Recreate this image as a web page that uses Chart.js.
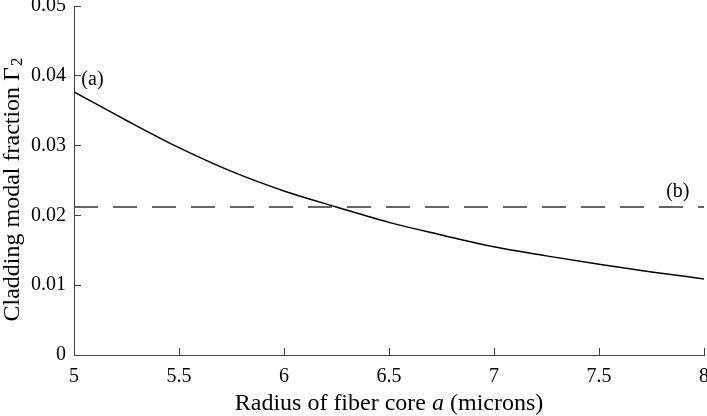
<!DOCTYPE html>
<html>
<head>
<meta charset="utf-8">
<script src="https://cdn.jsdelivr.net/npm/chart.js@4/dist/chart.umd.min.js"></script>
<style>
    html, body { margin: 0; padding: 0; background: #fff; }
    canvas { display: block; }
</style>
</head>
<body>
<canvas id="chart" width="707" height="416"></canvas>
<script>
(function () {
    'use strict';

    // --- Data ---

    const coreRadius = [5, 5.25, 5.5, 5.75, 6, 6.25, 6.5, 6.75, 7, 7.25, 7.5, 7.75, 8];
    const claddingFraction = [0.0377, 0.0336, 0.0297, 0.0263, 0.0235, 0.0212, 0.0190, 0.0172, 0.0155, 0.0142, 0.0130, 0.0119, 0.0109];
    const thresholdX = [5, 8];
    const thresholdY = [0.0212, 0.0212];
    const xTicks = [5, 5.5, 6, 6.5, 7, 7.5, 8];
    const yTicks = [0, 0.01, 0.02, 0.03, 0.04, 0.05];

    const noteText = ['(a)', '(b)'];
    const noteX = [5.035, 7.82];
    const noteY = [0.0394, 0.0234];

    const SERIF = '"Liberation Serif", "DejaVu Serif", serif';
    const AXIS_COLOR = '#404040';

    // --- Text drawn on top (titles with italic / subscript, curve labels) ---

    const textPlugin = {
        id: 'texts',
        afterDraw(chart) {
            const ctx = chart.ctx;
            const xs = chart.scales.x;
            const ys = chart.scales.y;
            const area = chart.chartArea;
            ctx.save();
            ctx.fillStyle = '#000';
            ctx.textBaseline = 'middle';
            ctx.textAlign = 'left';

            ctx.font = '20px ' + SERIF;
            noteText.forEach((t, i) => {
                ctx.fillText(t, xs.getPixelForValue(noteX[i]), ys.getPixelForValue(noteY[i]));
            });

            // x title: "Radius of fiber core a (microns)" with italic a
            const normal = '24px ' + SERIF;
            const italic = 'italic 24px ' + SERIF;
            const parts = [
                ['Radius of fiber core ', normal],
                ['a', italic],
                [' (microns)', normal],
            ];
            let total = 0;
            parts.forEach(p => { ctx.font = p[1]; total += ctx.measureText(p[0]).width; });
            let px = (area.left + area.right) / 2 - total / 2;
            parts.forEach(p => {
                ctx.font = p[1];
                ctx.fillText(p[0], px, 404);
                px += ctx.measureText(p[0]).width;
            });

            // y title: "Cladding modal fraction Γ2" with subscript 2
            ctx.translate(13, 190);
            ctx.rotate(-Math.PI / 2);
            const main = 'Cladding modal fraction Γ';
            ctx.font = normal;
            const wMain = ctx.measureText(main).width;
            ctx.font = '17px ' + SERIF;
            const wSub = ctx.measureText('2').width;
            const start = -(wMain + wSub) / 2;
            ctx.font = normal;
            ctx.fillText(main, start, 0);
            ctx.font = '17px ' + SERIF;
            ctx.fillText('2', start + wMain + 1, 5);
            ctx.restore();
        }
    };

    const ctx = document.getElementById('chart').getContext('2d');
    new Chart(ctx, {
        type: 'line',
        data: {
            datasets: [
                {
                    label: 'Cladding modal fraction',
                    data: coreRadius.map((x, i) => ({ x: x, y: claddingFraction[i] })),
                    borderColor: '#000',
                    borderWidth: 1.5,
                    pointRadius: 0,
                    cubicInterpolationMode: 'monotone',
                    fill: false,
                },
                {
                    label: 'Threshold',
                    data: thresholdX.map((x, i) => ({ x: x, y: thresholdY[i] })),
                    borderColor: '#333',
                    borderWidth: 1.4,
                    borderDash: [24, 15],
                    pointRadius: 0,
                    fill: false,
                },
            ],
        },
        options: {
            responsive: false,
            animation: false,
            devicePixelRatio: 1,
            layout: { padding: { top: 6, right: 3, left: 0, bottom: 0 } },
            plugins: {
                legend: { display: false },
                tooltip: { enabled: false },
            },
            scales: {
                x: {
                    type: 'linear',
                    min: 5,
                    max: 8,
                    afterFit: s => {
                        s.height = 61;
                        s.paddingLeft = 0;
                        s.paddingRight = 0;
                    },
                    afterBuildTicks: s => { s.ticks = xTicks.map(v => ({ value: v })); },
                    ticks: {
                        color: '#000',
                        font: { family: SERIF, size: 20 },
                        padding: 17,
                        maxRotation: 0,
                        callback: v => String(v),
                    },
                    grid: {
                        drawOnChartArea: false,
                        tickLength: -7,
                        color: AXIS_COLOR,
                    },
                    border: { color: AXIS_COLOR, width: 1 },
                },
                y: {
                    min: 0,
                    max: 0.05,
                    afterFit: s => {
                        s.width = 74;
                        s.paddingTop = 0;
                        s.paddingBottom = 0;
                    },
                    afterBuildTicks: s => { s.ticks = yTicks.map(v => ({ value: v })); },
                    ticks: {
                        color: '#000',
                        font: { family: SERIF, size: 20 },
                        padding: 15,
                        callback: v => String(+v.toFixed(2)),
                    },
                    grid: {
                        drawOnChartArea: false,
                        tickLength: -7,
                        color: AXIS_COLOR,
                    },
                    border: { color: AXIS_COLOR, width: 1 },
                },
            },
        },
        plugins: [textPlugin],
    });
})();
</script>
</body>
</html>
